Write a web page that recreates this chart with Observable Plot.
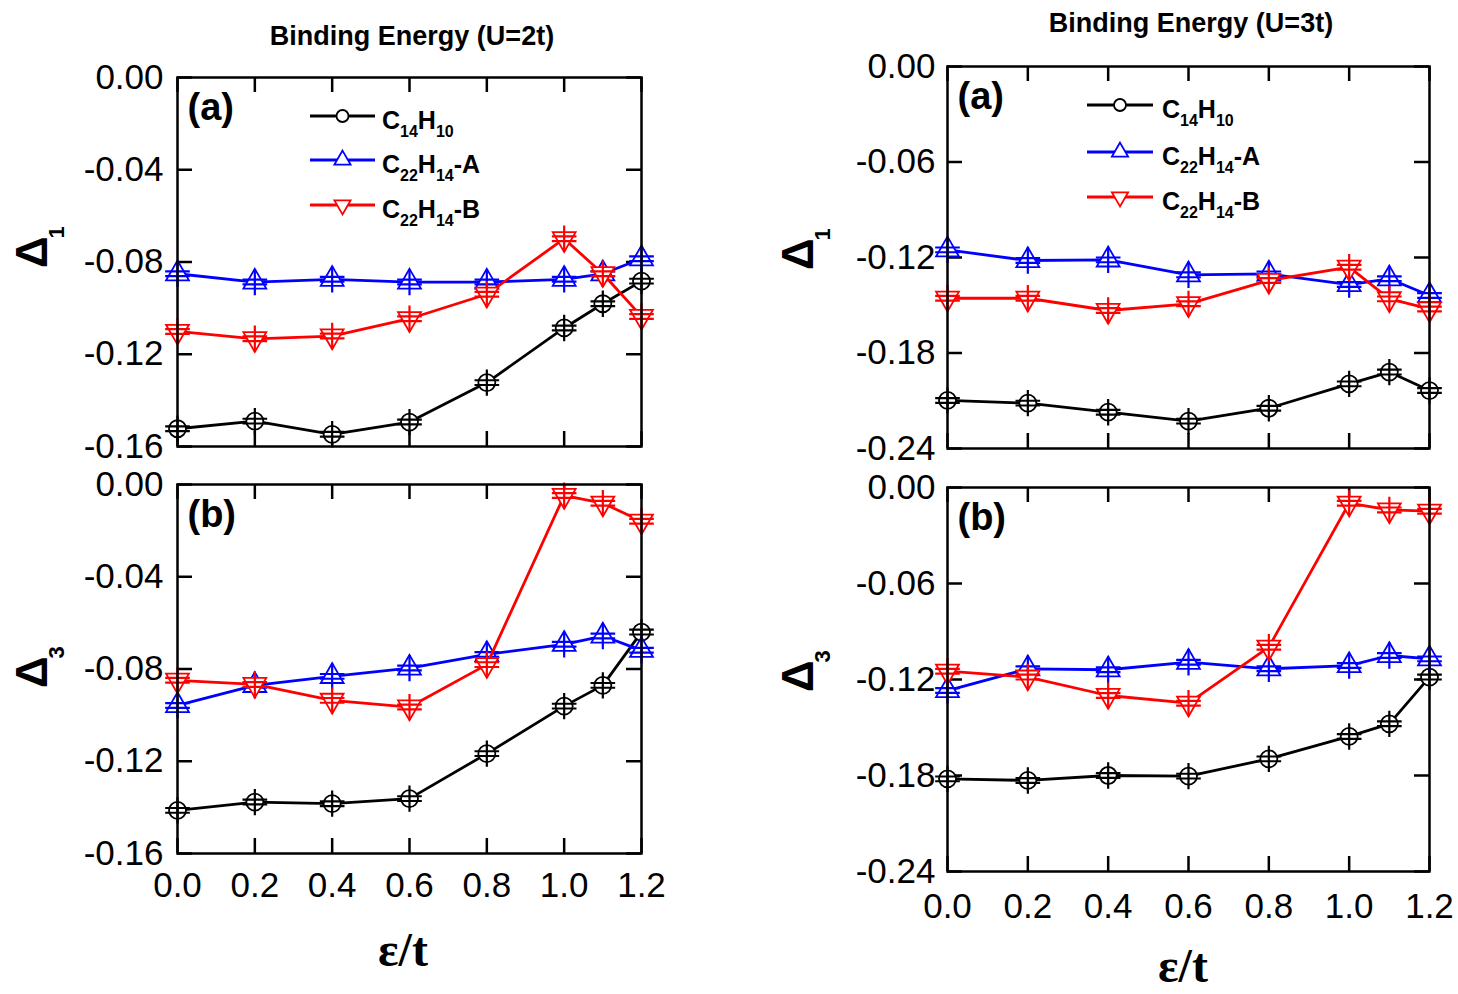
<!DOCTYPE html>
<html><head><meta charset="utf-8">
<script src="https://cdn.jsdelivr.net/npm/d3@7"></script>
<script src="https://cdn.jsdelivr.net/npm/@observablehq/plot@0.6"></script>
<style>
html,body{margin:0;padding:0;background:#fff;}
#root{position:relative;width:1458px;height:994px;overflow:hidden;font-family:"Liberation Sans",Arial,sans-serif;}
#root svg{position:absolute;left:0;top:0;max-width:none;}
</style></head><body><div id="root"></div>
<script>
// ---- data ----
const eps = [0, 0.2, 0.4, 0.6, 0.8, 1.0, 1.1, 1.2];
const xTicks = [0, 0.2, 0.4, 0.6, 0.8, 1.0, 1.2];
const seriesNames = ["C14H10", "C22H14-A", "C22H14-B"];
const seriesColors = ["#000000", "#0000ff", "#ff0000"];
const yTicksU2 = [0, -0.04, -0.08, -0.12, -0.16];
const yTicksU3 = [0, -0.06, -0.12, -0.18, -0.24];

// U = 2t, Delta_1
const u2d1_C14H10 = [-0.1523, -0.1490, -0.1547, -0.1494, -0.1323, -0.1086, -0.0981, -0.0883];
const u2d1_C22H14A = [-0.0851, -0.0887, -0.0875, -0.0887, -0.0887, -0.0875, -0.0851, -0.0786];
const u2d1_C22H14B = [-0.1101, -0.1133, -0.1121, -0.1046, -0.0940, -0.0699, -0.0851, -0.1036];
// U = 2t, Delta_3
const u2d3_C14H10 = [-0.1413, -0.1377, -0.1384, -0.1362, -0.1167, -0.0961, -0.0871, -0.0640];
const u2d3_C22H14A = [-0.0958, -0.0871, -0.0832, -0.0796, -0.0737, -0.0693, -0.0657, -0.0719];
const u2d3_C22H14B = [-0.0849, -0.0867, -0.0936, -0.0965, -0.0781, -0.0048, -0.0081, -0.0159];
// U = 3t, Delta_1
const u3d1_C14H10 = [-0.2098, -0.2115, -0.2172, -0.2228, -0.2147, -0.1994, -0.1920, -0.2036];
const u3d1_C22H14A = [-0.1152, -0.1219, -0.1215, -0.1309, -0.1303, -0.1370, -0.1334, -0.1439];
const u3d1_C22H14B = [-0.1456, -0.1456, -0.1533, -0.1491, -0.1344, -0.1261, -0.1460, -0.1523];
// U = 3t, Delta_3
const u3d3_C14H10 = [-0.1821, -0.1831, -0.1800, -0.1804, -0.1696, -0.1556, -0.1477, -0.1185];
const u3d3_C22H14A = [-0.1269, -0.1133, -0.1139, -0.1092, -0.1133, -0.1113, -0.1050, -0.1071];
const u3d3_C22H14B = [-0.1148, -0.1185, -0.1300, -0.1348, -0.0998, -0.0098, -0.0140, -0.0148];

// ---- layout ----
const W = 1458, H = 994;
const FONT = "Liberation Sans, Arial, Helvetica, sans-serif";
const TICK = 15;

const errorBar = {
  draw(ctx, size) {
    const r = Math.sqrt(size / Math.PI);
    const h = r * 1.55, w = r * 1.45, g = r * 0.28;
    ctx.moveTo(0, -h); ctx.lineTo(0, h);
    ctx.moveTo(-w, -g); ctx.lineTo(w, -g);
    ctx.moveTo(-w, g); ctx.lineTo(w, g);
  }
};
const symbols = ["circle", "triangle", "triangle"];
const rotations = [0, 0, 180];

const panels = [
  {series: [u2d1_C14H10, u2d1_C22H14A, u2d1_C22H14B], yTicks: yTicksU2, dom: [-0.16, 0],
   f: {l: 177, r: 641, t: 77, b: 446}, xLabels: false, tag: "(a)", yPad: 14, xPad: 19},
  {series: [u2d3_C14H10, u2d3_C22H14A, u2d3_C22H14B], yTicks: yTicksU2, dom: [-0.16, 0],
   f: {l: 177, r: 641, t: 484, b: 853}, xLabels: true, tag: "(b)", yPad: 14, xPad: 19},
  {series: [u3d1_C14H10, u3d1_C22H14A, u3d1_C22H14B], yTicks: yTicksU3, dom: [-0.24, 0],
   f: {l: 947, r: 1429, t: 66, b: 448}, xLabels: false, tag: "(a)", yPad: 12, xPad: 22},
  {series: [u3d3_C14H10, u3d3_C22H14A, u3d3_C22H14B], yTicks: yTicksU3, dom: [-0.24, 0],
   f: {l: 947, r: 1429, t: 487, b: 871}, xLabels: true, tag: "(b)", yPad: 12, xPad: 22}
];

const root = document.getElementById("root");

for (const p of panels) {
  const fw = p.f.r - p.f.l, fh = p.f.b - p.f.t;
  const marks = [
    Plot.ruleY(p.yTicks, {stroke: "#000", strokeWidth: 2.5, insetRight: fw - TICK}),
    Plot.ruleY(p.yTicks, {stroke: "#000", strokeWidth: 2.5, insetLeft: fw - TICK}),
    Plot.ruleX(xTicks, {stroke: "#000", strokeWidth: 2.5, insetBottom: fh - TICK}),
    Plot.ruleX(xTicks, {stroke: "#000", strokeWidth: 2.5, insetTop: fh - TICK}),
    Plot.axisY({ticks: p.yTicks, tickSize: 0, tickPadding: p.yPad, tickFormat: d => d.toFixed(2),
      fontSize: 35, label: null, fill: "#000"}),
    Plot.text([p.tag], {frameAnchor: "top-left", dx: 10, dy: 16, fontSize: 38, fontWeight: "bold", fill: "#000"})
  ];
  if (p.xLabels) {
    marks.push(Plot.axisX({ticks: xTicks, tickSize: 0, tickPadding: p.xPad, tickFormat: d => d.toFixed(1),
      fontSize: 35, label: null, fill: "#000"}));
  }
  p.series.forEach((vals, s) => {
    const rows = vals.map((v, i) => ({x: eps[i], y: v}));
    marks.push(Plot.line(rows, {x: "x", y: "y", stroke: seriesColors[s], strokeWidth: 2.8}));
    marks.push(Plot.dot(rows, {x: "x", y: "y", symbol: symbols[s], rotate: rotations[s], r: 8.5,
      stroke: seriesColors[s], strokeWidth: 1.8, fill: "white"}));
    marks.push(Plot.dot(rows, {x: "x", y: "y", symbol: errorBar, r: 8.5,
      stroke: seriesColors[s], strokeWidth: 2.2, fill: "none"}));
  });
  marks.push(Plot.frame({stroke: "#000", strokeWidth: 2.5}));
  const chart = Plot.plot({
    width: W, height: H,
    marginLeft: p.f.l, marginRight: W - p.f.r, marginTop: p.f.t, marginBottom: H - p.f.b,
    x: {domain: [0, 1.2], axis: p.xLabels ? undefined : null},
    y: {domain: p.dom},
    style: {background: "transparent", overflow: "visible", fontFamily: FONT, color: "#000"},
    marks
  });
  root.appendChild(chart);
}

// ---- overlay: titles, axis labels, legends ----
const svg = d3.select(root).append("svg").attr("width", W).attr("height", H)
  .style("font-family", FONT).style("overflow", "visible");

const titles = [
  {text: "Binding Energy (U=2t)", x: 412, y: 45},
  {text: "Binding Energy (U=3t)", x: 1191, y: 32}
];
titles.forEach(t => svg.append("text").attr("x", t.x).attr("y", t.y).attr("text-anchor", "middle")
  .attr("font-size", 27).attr("font-weight", "bold").text(t.text));

const xTitles = [{x: 403, y: 966}, {x: 1183, y: 982}];
xTitles.forEach(t => svg.append("text").attr("x", t.x).attr("y", t.y).attr("text-anchor", "middle")
  .attr("font-family", "Liberation Serif, Times New Roman, serif").attr("font-size", 48)
  .attr("font-weight", "bold").text("ε/t"));

const yTitles = [
  {x: 47, y: 268, sub: "1"}, {x: 47, y: 688, sub: "3"},
  {x: 813, y: 270, sub: "1"}, {x: 813, y: 692, sub: "3"}
];
yTitles.forEach(t => {
  const tx = svg.append("text").attr("transform", `translate(${t.x},${t.y}) rotate(-90)`)
    .attr("font-weight", "bold").attr("text-anchor", "start");
  tx.append("tspan").attr("font-size", 44).text("Δ");
  tx.append("tspan").attr("font-size", 22).attr("dx", -2).attr("dy", 17).text(t.sub);
});

const legendLabels = [
  [["C", 0], ["14", 1], ["H", 0], ["10", 1]],
  [["C", 0], ["22", 1], ["H", 0], ["14", 1], ["-A", 0]],
  [["C", 0], ["22", 1], ["H", 0], ["14", 1], ["-B", 0]]
];
const legends = [
  {x0: 310, x1: 375, tx: 382, ys: [116, 160, 205]},
  {x0: 1087, x1: 1153, tx: 1162, ys: [105, 152, 197]}
];
const legendSym = [d3.symbolCircle, d3.symbolTriangle, d3.symbolTriangle];
legends.forEach(L => {
  L.ys.forEach((y, s) => {
    svg.append("line").attr("x1", L.x0).attr("x2", L.x1).attr("y1", y).attr("y2", y)
      .attr("stroke", seriesColors[s]).attr("stroke-width", 2.8);
    const mx = (L.x0 + L.x1) / 2;
    svg.append("path").attr("d", d3.symbol(legendSym[s], 6 * 6 * Math.PI)())
      .attr("transform", `translate(${mx},${y}) rotate(${rotations[s]})`)
      .attr("fill", "white").attr("stroke", seriesColors[s]).attr("stroke-width", 1.8);
    const t = svg.append("text").attr("x", L.tx).attr("y", y + 13).attr("font-weight", "bold");
    let shifted = false;
    legendLabels[s].forEach(([str, sub]) => {
      const ts = t.append("tspan").text(str);
      if (sub) {
        ts.attr("font-size", 16).attr("dy", shifted ? 0 : 8);
        shifted = true;
      } else {
        ts.attr("font-size", 25).attr("dy", shifted ? -8 : 0);
        shifted = false;
      }
    });
  });
});
</script>
</body></html>
